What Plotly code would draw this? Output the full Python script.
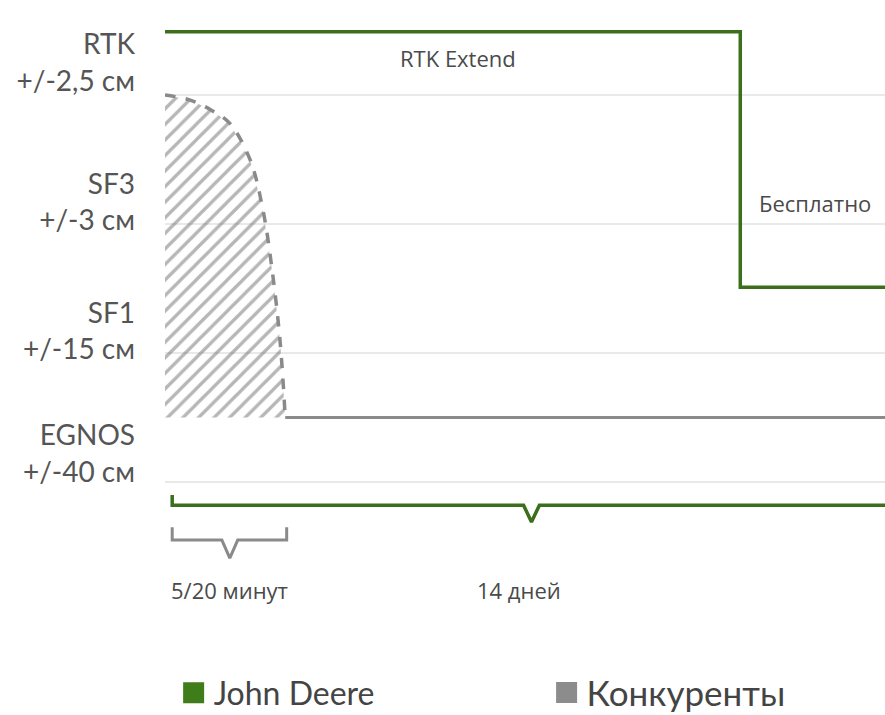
import plotly.graph_objects as go

# ---- data (x: time axis, arbitrary 0..100; y: accuracy level, gridlines at 0..3)
level_labels = ["RTK<br>+/-2,5 см", "SF3<br>+/-3 см", "SF1<br>+/-15 см", "EGNOS<br>+/-40 см"]
level_label_pos = [3.25, 2.17, 1.17, 0.22]
grid_levels = [0, 1, 2, 3]

jd_x = [0, 79.9, 79.9, 100]
jd_y = [3.49, 3.49, 1.51, 1.51]

comp_curve_x = [0, 3.5, 6.5, 9.0, 11.8, 13.6, 15.0, 16.0, 16.7]
comp_curve_y = [3.0, 2.96, 2.88, 2.78, 2.50, 2.11, 1.59, 1.08, 0.5]
comp_flat_x = [16.7, 100]
comp_flat_y = [0.5, 0.5]

jd_period = [1.0, 50.9, 100]      # start, notch, end of 14-day bracket
comp_period = [1.0, 9.0, 16.9]    # start, notch, end of 5/20-min bracket
bracket_jd_y = -0.18
bracket_comp_y = -0.45

GREEN = "#3b6f1c"
GREEN_LEG = "#3f7d1a"
GRAY = "#8a8a8a"
TXT = "#555555"
FONT = "Lato, sans-serif"
FONT_SMALL = "Open Sans, sans-serif"

fig = go.Figure()

# hatched area under competitor curve
hx = comp_curve_x + [comp_curve_x[-1], 0, 0]
hy = comp_curve_y + [comp_curve_y[-1], comp_curve_y[-1], comp_curve_y[0]]
fig.add_trace(go.Scatter(x=hx, y=hy, mode="lines", fill="toself", line=dict(width=0, color="rgba(0,0,0,0)"),
                         fillcolor="rgba(0,0,0,0)",
                         fillpattern=dict(shape="/", fgcolor="#6e6e6e", bgcolor="rgba(255,255,255,0)", size=11, solidity=0.3),
                         showlegend=False, hoverinfo="skip"))
# competitor dashed curve
fig.add_trace(go.Scatter(x=comp_curve_x, y=comp_curve_y, mode="lines",
                         line=dict(color=GRAY, width=3.5, dash="dash", shape="spline"),
                         showlegend=False))
fig.add_trace(go.Scatter(x=comp_flat_x, y=comp_flat_y, mode="lines",
                         line=dict(color=GRAY, width=3), showlegend=False))
# John Deere step line
fig.add_trace(go.Scatter(x=jd_x, y=jd_y, mode="lines", line=dict(color=GREEN, width=3.5),
                         showlegend=False))

# brackets
n = 1.1
bx = [jd_period[0], jd_period[0], jd_period[1] - n, jd_period[1], jd_period[1] + n, jd_period[2]]
by = [bracket_jd_y + 0.08, bracket_jd_y, bracket_jd_y, bracket_jd_y - 0.13, bracket_jd_y, bracket_jd_y]
fig.add_trace(go.Scatter(x=bx, y=by, mode="lines", line=dict(color=GREEN, width=3.5), showlegend=False))
cx = [comp_period[0], comp_period[0], comp_period[1] - n, comp_period[1], comp_period[1] + n, comp_period[2], comp_period[2]]
cy = [bracket_comp_y + 0.1, bracket_comp_y, bracket_comp_y, bracket_comp_y - 0.14, bracket_comp_y, bracket_comp_y, bracket_comp_y + 0.1]
fig.add_trace(go.Scatter(x=cx, y=cy, mode="lines", line=dict(color=GRAY, width=3), showlegend=False))

# legend entries (two separate legends to control spacing)
fig.add_trace(go.Scatter(x=[None], y=[None], mode="markers", name="John Deere", legend="legend",
                         marker=dict(symbol="square", size=16, color=GREEN_LEG,
                                     line=dict(color=GREEN_LEG, width=5))))
fig.add_trace(go.Scatter(x=[None], y=[None], mode="markers", name="Конкуренты", legend="legend2",
                         marker=dict(symbol="square", size=16, color="#8c8c8c",
                                     line=dict(color="#8c8c8c", width=5))))

for g in grid_levels:
    fig.add_shape(type="line", xref="paper", x0=0, x1=1, y0=g, y1=g,
                  line=dict(color="#e2e2e2", width=1.5), layer="below")

anns = [
    dict(x=40.7, y=3.29, text="RTK Extend", xanchor="center"),
    dict(x=90.3, y=2.16, text="Бесплатно", xanchor="center"),
    dict(x=0.6, y=-0.84, text="5/20 минут", xanchor="left"),
    dict(x=43.1, y=-0.84, text="14 дней", xanchor="left"),
]
for a in anns:
    fig.add_annotation(x=a["x"], y=a["y"], text=a["text"], showarrow=False, xanchor=a["xanchor"],
                       font=dict(size=22, color="#4a4a4a", family=FONT_SMALL))

leg_common = dict(orientation="h", y=0.031, xanchor="left", yanchor="middle",
                  itemsizing="trace", bgcolor="rgba(0,0,0,0)", itemwidth=30)

fig.update_layout(
    width=885, height=715,
    margin=dict(l=165, r=0, t=0, b=0, autoexpand=False),
    plot_bgcolor="white", paper_bgcolor="white",
    font=dict(family=FONT, color=TXT),
    xaxis=dict(range=[0, 100], visible=False),
    yaxis=dict(range=[-1.806, 3.736], tickvals=level_label_pos, ticktext=level_labels,
               showgrid=False, zeroline=False, showline=False, ticks="",
               tickfont=dict(size=28, color=TXT, family=FONT), ticklabelstandoff=29),
    legend=dict(x=0.012, font=dict(size=32, color="#444444", family=FONT), **leg_common),
    legend2=dict(x=0.53, font=dict(size=35, color="#444444", family=FONT), **leg_common),
    showlegend=True,
)

fig.write_html("out.html", config={"displayModeBar": False},
               post_script="document.body.style.margin='0px';")
